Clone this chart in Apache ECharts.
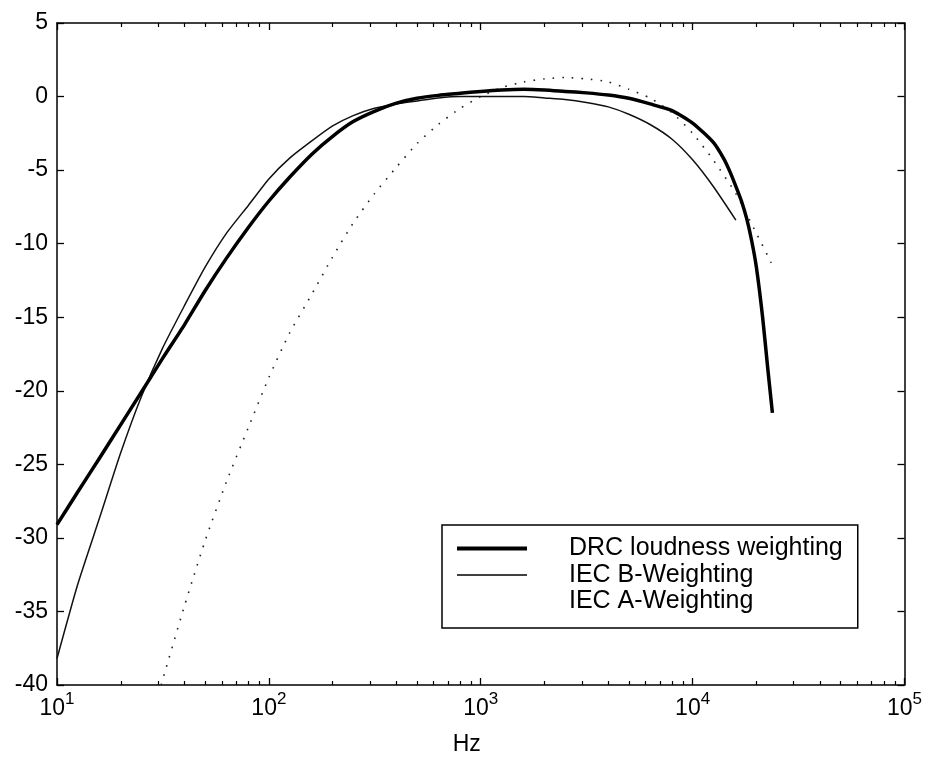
<!DOCTYPE html>
<html>
<head>
<meta charset="utf-8">
<script src="https://cdn.jsdelivr.net/npm/echarts@6/dist/echarts.min.js"></script>
<style>
  html, body { margin: 0; padding: 0; background: #fff; }
  #chart { width: 925px; height: 765px; }
</style>
</head>
<body>
<div id="chart"></div>
<script>
// ---- Data ----
const drcFreq = [10, 12.5, 16, 20, 25, 31.5, 40, 50, 63, 80, 100, 125, 160, 200, 250, 315, 400, 500, 630, 800, 1000, 1250, 1600, 2000, 2500, 3150, 4000, 5000, 6300, 8000, 10000, 12500, 14000, 15000, 16000, 17000, 18000, 19000, 20000, 21400, 22600, 23800];
const drcDb   = [-29.1, -26.9, -24.5, -22.3, -20.1, -17.8, -15.5, -13.2, -11.0, -8.9, -7.1, -5.5, -3.9, -2.7, -1.7, -1.0, -0.45, -0.12, 0.08, 0.22, 0.35, 0.45, 0.5, 0.45, 0.35, 0.25, 0.1, -0.12, -0.5, -0.95, -1.8, -3.1, -4.2, -5.1, -6.1, -7.1, -8.3, -9.8, -11.6, -15.0, -18.4, -21.5];

const bFreq = [10, 12.5, 16, 20, 25, 31.5, 40, 50, 63, 80, 100, 125, 160, 200, 250, 315, 400, 500, 630, 800, 1000, 1250, 1600, 2000, 2500, 3150, 4000, 5000, 6300, 8000, 10000, 12500, 16000];
const bDb   = [-38.2, -33.2, -28.5, -24.2, -20.4, -17.1, -14.2, -11.6, -9.3, -7.4, -5.6, -4.2, -3.0, -2.0, -1.3, -0.8, -0.5, -0.3, -0.1, 0.0, 0.0, 0.0, 0.0, -0.1, -0.2, -0.4, -0.7, -1.2, -1.9, -2.9, -4.3, -6.1, -8.4];

const aFreq = [31, 40, 50, 63, 80, 100, 125, 160, 200, 250, 315, 400, 500, 630, 800, 1000, 1250, 1600, 2000, 2500, 3150, 4000, 5000, 6300, 8000, 10000, 12500, 16000, 20000, 23500];
const aDb   = [-40.0, -34.6, -30.2, -26.2, -22.5, -19.1, -16.1, -13.4, -10.9, -8.6, -6.6, -4.8, -3.2, -1.9, -0.8, 0.0, 0.6, 1.0, 1.2, 1.3, 1.2, 1.0, 0.5, -0.1, -1.1, -2.5, -4.3, -6.6, -9.3, -11.3];

const seriesNames = ['DRC loudness weighting', 'IEC B-Weighting', 'IEC A-Weighting'];

const xMajorTicks = [10, 100, 1000, 10000, 100000];
const xMinorTicks = [20, 30, 40, 50, 60, 70, 80, 90,
                     200, 300, 400, 500, 600, 700, 800, 900,
                     2000, 3000, 4000, 5000, 6000, 7000, 8000, 9000,
                     20000, 30000, 40000, 50000, 60000, 70000, 80000, 90000];
const yMin = -40, yMax = 5, yStep = 5;
const xTitle = 'Hz';

// ---- Chart ----
const FONT = '"Liberation Sans", Arial, Helvetica, sans-serif';
const pairs = (f, v) => f.map((x, i) => [x, v[i]]);

function logAxis(position, opts) {
  return Object.assign({
    type: 'log', logBase: 10, min: 10, max: 100000, position: position,
    splitLine: { show: false },
    axisLine: { show: false, onZero: false },
    axisLabel: { show: false },
    axisTick: { show: false },
    name: ''
  }, opts);
}

const chart = echarts.init(document.getElementById('chart'), null, { renderer: 'canvas' });

chart.setOption({
  animation: false,
  backgroundColor: '#fff',
  grid: { left: 57, top: 23, right: 20, bottom: 80, containLabel: false },
  xAxis: [
    logAxis('bottom', {
      axisLine: { show: true, onZero: false, lineStyle: { color: '#000', width: 1.5 } },
      axisTick: { show: true, inside: true, length: 7, customValues: xMajorTicks, lineStyle: { color: '#000', width: 1.3 } },
      axisLabel: {
        show: true, margin: 6, customValues: xMajorTicks,
        formatter: v => '{b|10}{e|' + Math.round(Math.log10(v)) + '}',
        rich: {
          b: { fontSize: 23, lineHeight: 23, padding: [13, 0, 0, 0], fontFamily: FONT, color: '#000' },
          e: { fontSize: 17, lineHeight: 17, verticalAlign: 'top', fontFamily: FONT, color: '#000' }
        }
      },
      name: xTitle, nameLocation: 'middle', nameGap: 48,
      nameTextStyle: { fontSize: 23, fontFamily: FONT, color: '#000', padding: [0, 28, 0, 0] }
    }),
    logAxis('bottom', {
      axisTick: { show: true, inside: true, length: 4, customValues: xMinorTicks, lineStyle: { color: '#000', width: 1.2 } }
    }),
    logAxis('top', {
      axisLine: { show: true, onZero: false, lineStyle: { color: '#000', width: 1.5 } },
      axisTick: { show: true, inside: true, length: 7, customValues: xMajorTicks, lineStyle: { color: '#000', width: 1.3 } }
    }),
    logAxis('top', {
      axisTick: { show: true, inside: true, length: 4, customValues: xMinorTicks, lineStyle: { color: '#000', width: 1.2 } }
    })
  ],
  yAxis: [
    {
      type: 'value', position: 'left', min: yMin, max: yMax, interval: yStep,
      splitLine: { show: false },
      axisLine: { show: true, onZero: false, lineStyle: { color: '#000', width: 1.5 } },
      axisTick: { show: true, inside: true, length: 7, lineStyle: { color: '#000', width: 1.3 } },
      axisLabel: { fontSize: 23, fontFamily: FONT, color: '#000', margin: 9 }
    },
    {
      type: 'value', position: 'right', min: yMin, max: yMax, interval: yStep,
      splitLine: { show: false },
      axisLine: { show: true, onZero: false, lineStyle: { color: '#000', width: 1.5 } },
      axisTick: { show: true, inside: true, length: 7, lineStyle: { color: '#000', width: 1.3 } },
      axisLabel: { show: false }
    }
  ],
  legend: {
    orient: 'vertical', left: 442, top: 525,
    padding: [11, 15, 14, 15],
    itemWidth: 70, itemHeight: 25, itemGap: 1.5,
    backgroundColor: '#fff', borderColor: '#000', borderWidth: 1.5, borderRadius: 0,
    selectedMode: false,
    textStyle: { fontSize: 25, lineHeight: 25, fontFamily: FONT, color: '#000', padding: [0, 0, 0, 37] },
    data: [
      { name: seriesNames[0], icon: 'path://M0,0H70V4H0Z' },
      { name: seriesNames[1], icon: 'path://M0,0H70V1.5H0Z' },
      { name: seriesNames[2], icon: 'path://M0,0H70V1H0Z', itemStyle: { opacity: 0 } }
    ]
  },
  series: [
    {
      name: seriesNames[0], type: 'line', data: pairs(drcFreq, drcDb),
      xAxisIndex: 0, yAxisIndex: 0,
      showSymbol: false, symbol: 'none', smooth: 0.2,
      color: '#000', lineStyle: { color: '#000', width: 3.5, join: 'round' }, z: 5
    },
    {
      name: seriesNames[1], type: 'line', data: pairs(bFreq, bDb),
      xAxisIndex: 0, yAxisIndex: 0,
      showSymbol: false, symbol: 'none', smooth: 0.2,
      color: '#000', lineStyle: { color: '#111', width: 1.5, join: 'round' }, z: 4
    },
    {
      name: seriesNames[2], type: 'line', data: pairs(aFreq, aDb),
      xAxisIndex: 0, yAxisIndex: 0,
      showSymbol: false, symbol: 'none', smooth: 0.2,
      color: '#222', lineStyle: { color: '#222', width: 1.6, type: [1.6, 8], cap: 'butt' }, z: 3
    }
  ]
});
</script>
</body>
</html>
